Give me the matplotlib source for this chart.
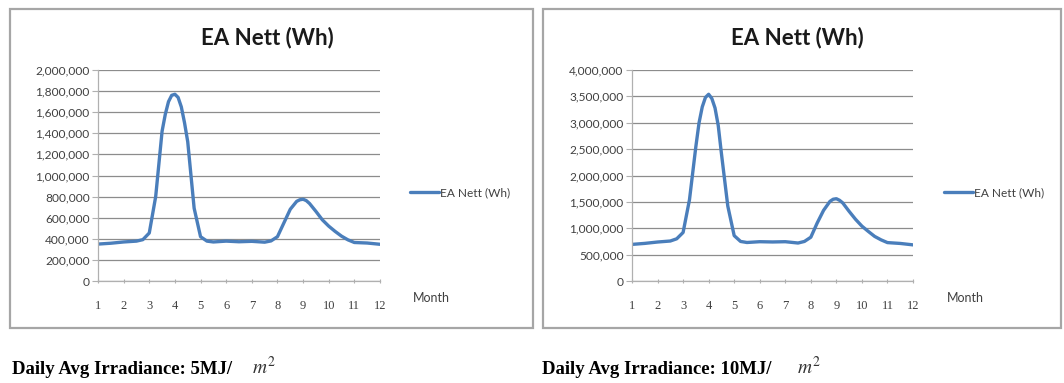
import matplotlib.pyplot as plt
from matplotlib.patches import Rectangle
from matplotlib.ticker import FuncFormatter

plt.rcParams["mathtext.fontset"] = "stix"

W, H = 1064, 383

month = [1, 1.5, 2, 2.5, 2.75, 3, 3.25, 3.5, 3.625, 3.75, 3.875, 4, 4.125, 4.25,
         4.375, 4.5, 4.75, 5, 5.25, 5.5, 6, 6.5, 7, 7.5, 7.75, 8, 8.25, 8.5, 8.75,
         8.875, 9, 9.125, 9.25, 9.5, 9.75, 10, 10.25, 10.5, 10.75, 11, 11.5, 12]

ea_5mj = [350000, 358000, 370000, 378000, 392000, 455000, 800000, 1420000, 1580000,
          1700000, 1760000, 1770000, 1740000, 1650000, 1500000, 1320000, 690000,
          420000, 378000, 370000, 378000, 372000, 376000, 368000, 380000, 420000,
          550000, 680000, 755000, 770000, 775000, 762000, 735000, 660000, 580000,
          520000, 470000, 425000, 390000, 365000, 360000, 348000]

ea_10mj = [694000, 713000, 739000, 758000, 800000, 920000, 1540000, 2550000, 3000000,
           3300000, 3480000, 3540000, 3460000, 3280000, 2950000, 2420000, 1420000,
           860000, 750000, 730000, 745000, 740000, 745000, 720000, 750000, 830000,
           1100000, 1340000, 1510000, 1550000, 1560000, 1530000, 1480000, 1320000,
           1170000, 1040000, 940000, 845000, 780000, 728000, 712000, 685000]

month_ticks = list(range(1, 13))
ylim_5mj = (0, 2000000, 200000)
ylim_10mj = (0, 4000000, 500000)
captions = ["Daily Avg Irradiance: 5MJ/", "Daily Avg Irradiance: 10MJ/"]

line_col = "#4a7ebb"
text_col = "#404040"

fig = plt.figure(figsize=(W / 100, H / 100), dpi=100)


def px_rect(x0, y0, x1, y1):
    # pixel box (top-left origin) -> figure fraction [left, bottom, width, height]
    return [x0 / W, 1 - y1 / H, (x1 - x0) / W, (y1 - y0) / H]


def chart(box, plot, values, ylim, caption, cap_x, m2_x, mx):
    l, b, w, h = px_rect(*box)
    fig.patches.append(Rectangle((l, b), w, h, transform=fig.transFigure,
                                 fill=False, ec="#a6a6a6", lw=1.6))

    ax = fig.add_axes(px_rect(*plot))
    ax.plot(month, values, color=line_col, lw=2.4, solid_capstyle="round",
            solid_joinstyle="round", label="EA Nett (Wh)")
    ax.set_xlim(1, 12)
    ax.set_ylim(ylim[0], ylim[1])
    ax.set_yticks(range(ylim[0], ylim[1] + 1, ylim[2]))
    ax.set_xticks(month_ticks)
    ax.yaxis.set_major_formatter(FuncFormatter(lambda v, p: f"{int(v):,}"))
    ax.grid(axis="y", color="#8c8c8c", lw=0.9)
    ax.set_axisbelow(True)
    for s in ["top", "right"]:
        ax.spines[s].set_visible(False)
    for s in ["left", "bottom"]:
        ax.spines[s].set_color("#b0b0b0")
        ax.spines[s].set_linewidth(0.9)
    ax.tick_params(axis="y", length=4, color="#b0b0b0", labelsize=8.6,
                   labelcolor=text_col, pad=2)
    ax.tick_params(axis="x", length=3, direction="inout", color="#b0b0b0",
                   labelsize=9, labelcolor=text_col, pad=12)
    for t in ax.get_yticklabels():
        t.set_fontfamily("Lato")
    for t in ax.get_xticklabels():
        t.set_fontfamily("Liberation Serif")

    fig.text((box[0] + box[2]) / 2 / W - 0.004, 1 - 38 / H, "EA Nett (Wh)",
             fontfamily="Lato", fontweight="bold", fontsize=16, color="#1a1a1a",
             ha="center", va="center")
    leg = ax.legend(loc="center left", bbox_to_anchor=(mx / W, 1 - 193 / H),
                    bbox_transform=fig.transFigure, frameon=False,
                    prop={"family": "Lato", "size": 8.6}, handlelength=2.4,
                    handletextpad=0.1, borderpad=0, borderaxespad=0)
    for t in leg.get_texts():
        t.set_color(text_col)
    fig.text((mx + 3) / W, 1 - 298 / H, "Month", fontfamily="Lato", fontsize=9,
             color=text_col, ha="left", va="center")

    fig.text(cap_x / W, 1 - 370 / H, caption, fontfamily="Liberation Serif",
             fontweight="bold", fontsize=13.5, color="black", ha="left", va="center")
    fig.text(m2_x / W, 1 - 367 / H, r"$m^2$", fontsize=14,
             color="#333333", ha="left", va="center")


chart((10, 9, 533, 328), (98, 70, 380, 281), ea_5mj, ylim_5mj, captions[0], 12, 252, 410)
chart((543, 9, 1061, 328), (632, 70, 913, 281), ea_10mj, ylim_10mj, captions[1], 542, 797, 944)

fig.savefig("out.png", dpi=100)
